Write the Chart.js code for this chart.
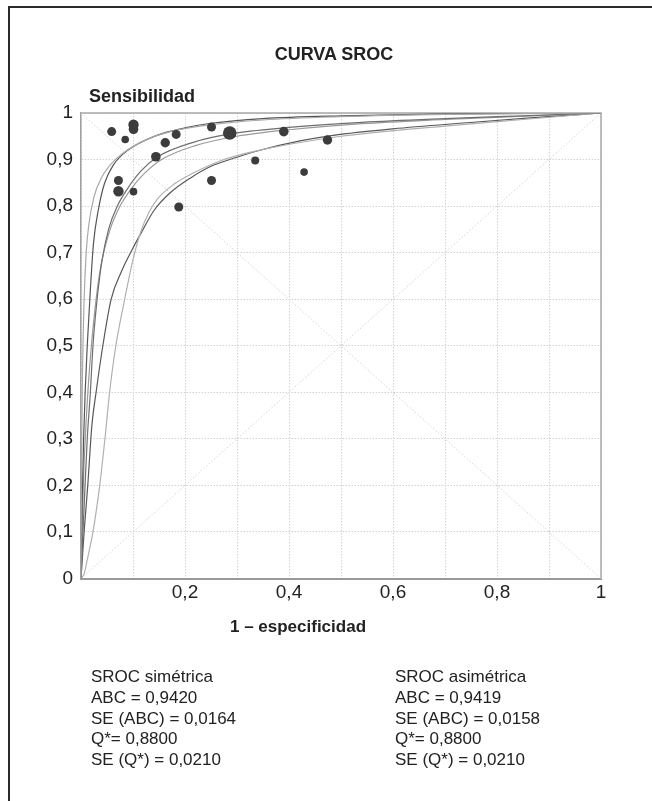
<!DOCTYPE html>
<html>
<head>
<meta charset="utf-8">
<script src="https://cdn.jsdelivr.net/npm/chart.js@4.4.1/dist/chart.umd.min.js"></script>
<style>
  body { margin: 0; background: #fff; }
  #wrap { position: relative; width: 652px; height: 801px; overflow: hidden; font-family: "Liberation Sans", Arial, sans-serif; color: #222; }
  #frame { position: absolute; left: 8px; top: 6px; width: 700px; height: 900px; border-top: 2px solid #2a2a2a; border-left: 2px solid #2a2a2a; }
  canvas { position: absolute; left: 0; top: 0; }
  .txt { position: absolute; white-space: nowrap; font-weight: bold; }
  .stats { position: absolute; font-size: 17px; line-height: 20.8px; white-space: nowrap; }
</style>
</head>
<body>
<div id="wrap">
  <div id="frame"></div>
  <canvas id="sroc" width="652" height="801"></canvas>
  <div class="txt" style="left:0;width:668px;text-align:center;top:43px;font-size:18px;line-height:22px">CURVA SROC</div>
  <div class="txt" style="left:89px;top:85px;font-size:18px;line-height:22px">Sensibilidad</div>
  <div class="txt" style="left:0;width:596px;text-align:center;top:617px;font-size:17px;line-height:20px">1 – especificidad</div>
  <div class="stats" style="left:91px;top:667px">
    SROC simétrica<br>ABC = 0,9420<br>SE (ABC) = 0,0164<br>Q*= 0,8800<br>SE (Q*) = 0,0210
  </div>
  <div class="stats" style="left:395px;top:667px">
    SROC asimétrica<br>ABC = 0,9419<br>SE (ABC) = 0,0158<br>Q*= 0,8800<br>SE (Q*) = 0,0210
  </div>
</div>

<script>
// tick labels
const xTickLabels = ["", "", "0,2", "", "0,4", "", "0,6", "", "0,8", "", "1"];
const yTickLabels = ["0", "0,1", "0,2", "0,3", "0,4", "0,5", "0,6", "0,7", "0,8", "0,9", "1"];

// studies (1 - especificidad, sensibilidad, peso)
const studyFpr  = [0.059, 0.085, 0.101, 0.101, 0.072, 0.072, 0.101, 0.144, 0.162, 0.183, 0.188, 0.251, 0.251, 0.286, 0.335, 0.390, 0.429, 0.474];
const studySens = [0.960, 0.943, 0.975, 0.965, 0.855, 0.832, 0.831, 0.906, 0.936, 0.954, 0.798, 0.970, 0.855, 0.957, 0.898, 0.960, 0.873, 0.942];
const studyWeight = [45, 38, 52, 48, 45, 52, 38, 48, 47, 45, 45, 45, 45, 68, 40, 48, 38, 47];

// SROC curves
const curveAFpr  = [0, 0.001, 0.003, 0.006, 0.01, 0.015, 0.025, 0.04, 0.06, 0.09, 0.13, 0.18, 0.25, 0.35, 0.5, 0.7, 1];
const curveASens = [0, 0.25, 0.45, 0.6, 0.7, 0.76, 0.82, 0.862, 0.893, 0.921, 0.945, 0.962, 0.975, 0.985, 0.992, 0.997, 1];

const curveBFpr  = [0, 0.002, 0.005, 0.008, 0.012, 0.018, 0.024, 0.033, 0.045, 0.062, 0.09, 0.146, 0.2, 0.25, 0.35, 0.5, 0.7, 1];
const curveBSens = [0, 0.15, 0.3, 0.4, 0.5, 0.62, 0.72, 0.79, 0.848, 0.888, 0.92, 0.952, 0.968, 0.978, 0.988, 0.994, 0.998, 1];

const curveCFpr  = [0, 0.003, 0.007, 0.012, 0.018, 0.023, 0.031, 0.04, 0.053, 0.07, 0.088, 0.115, 0.146, 0.216, 0.286, 0.4, 0.54, 0.7, 0.85, 1];
const curveCSens = [0, 0.08, 0.18, 0.3, 0.4, 0.5, 0.6, 0.68, 0.75, 0.8, 0.835, 0.875, 0.905, 0.937, 0.955, 0.969, 0.98, 0.988, 0.994, 1];

const curveDFpr  = [0, 0.002, 0.005, 0.01, 0.015, 0.02, 0.028, 0.038, 0.056, 0.075, 0.095, 0.12, 0.155, 0.22, 0.3, 0.4, 0.54, 0.7, 0.85, 1];
const curveDSens = [0, 0.1, 0.22, 0.34, 0.43, 0.5, 0.59, 0.67, 0.75, 0.8, 0.835, 0.868, 0.9, 0.93, 0.95, 0.964, 0.977, 0.986, 0.993, 1];

const curveEFpr  = [0, 0.006, 0.012, 0.023, 0.036, 0.046, 0.055, 0.067, 0.084, 0.1, 0.115, 0.13, 0.146, 0.18, 0.216, 0.27, 0.335, 0.5, 0.7, 0.85, 1];
const curveESens = [0, 0.01, 0.04, 0.1, 0.2, 0.3, 0.4, 0.5, 0.6, 0.685, 0.745, 0.785, 0.814, 0.848, 0.871, 0.898, 0.918, 0.95, 0.972, 0.986, 1];

const curveFFpr  = [0, 0.003, 0.006, 0.013, 0.021, 0.029, 0.042, 0.058, 0.078, 0.1, 0.117, 0.14, 0.171, 0.21, 0.251, 0.3, 0.344, 0.421, 0.485, 0.6, 0.742, 0.87, 1];
const curveFSens = [0, 0.05, 0.1, 0.2, 0.33, 0.4, 0.5, 0.6, 0.66, 0.71, 0.745, 0.79, 0.828, 0.86, 0.886, 0.905, 0.92, 0.94, 0.952, 0.966, 0.979, 0.99, 1];

// reference diagonals
const diagFpr  = [0, 1];
const diagSens = [0, 1];
const antiSens = [1, 0];

const toPoints = (xs, ys) => xs.map((x, i) => ({ x, y: ys[i] }));

function curve(xs, ys, color) {
  return {
    data: toPoints(xs, ys),
    borderColor: color,
    borderWidth: 1.2,
    pointRadius: 0,
    cubicInterpolationMode: "monotone",
    fill: false,
    order: 2,
  };
}

function refLine(xs, ys) {
  return {
    data: toPoints(xs, ys),
    borderColor: "#d4d4d4",
    borderWidth: 1,
    borderDash: [1.5, 2],
    pointRadius: 0,
    fill: false,
    order: 3,
  };
}

// top and right edges of the plot box
const boxBorder = {
  id: "boxBorder",
  beforeDatasetsDraw(chart) {
    const { ctx, chartArea: a } = chart;
    ctx.save();
    ctx.strokeStyle = "#a8a8a8";
    ctx.lineWidth = 1.5;
    ctx.beginPath();
    ctx.moveTo(a.left, a.top);
    ctx.lineTo(a.right, a.top);
    ctx.lineTo(a.right, a.bottom);
    ctx.stroke();
    ctx.restore();
  },
};

const tickFont = { family: "'Liberation Sans', Arial, sans-serif", size: 19 };

new Chart(document.getElementById("sroc"), {
  type: "line",
  data: {
    datasets: [
      {
        data: toPoints(studyFpr, studySens),
        showLine: false,
        pointRadius: studyWeight.map(w => w / 10),
        pointBackgroundColor: "#3c3c3c",
        pointBorderColor: "#3c3c3c",
        pointBorderWidth: 0,
        order: 0,
      },
      curve(curveAFpr, curveASens, "#a8a8a8"),
      curve(curveBFpr, curveBSens, "#555555"),
      curve(curveCFpr, curveCSens, "#6e6e6e"),
      curve(curveDFpr, curveDSens, "#9a9a9a"),
      curve(curveEFpr, curveESens, "#b0b0b0"),
      curve(curveFFpr, curveFSens, "#585858"),
      refLine(diagFpr, diagSens),
      refLine(diagFpr, antiSens),
    ],
  },
  options: {
    responsive: false,
    animation: false,
    layout: { padding: { top: 113, right: 51, bottom: 180, left: 0 } },
    scales: {
      x: {
        type: "linear",
        min: 0,
        max: 1,
        afterFit: s => { s.height = 42.5; },
        grid: { color: "#d2d2d2", drawTicks: false },
        border: { color: "#9a9a9a", width: 2, dash: [1.5, 1.5] },
        ticks: {
          stepSize: 0.1,
          autoSkip: false,
          maxRotation: 0,
          padding: 3,
          color: "#222",
          font: tickFont,
          callback: (v, i) => xTickLabels[i],
        },
      },
      y: {
        type: "linear",
        min: 0,
        max: 1,
        afterFit: s => { s.width = 81; },
        grid: { color: "#d2d2d2", drawTicks: false },
        border: { color: "#a0a0a0", width: 1.5, dash: [1.5, 1.5] },
        ticks: {
          stepSize: 0.1,
          autoSkip: false,
          padding: 8,
          color: "#222",
          font: tickFont,
          callback: (v, i) => yTickLabels[i],
        },
      },
    },
    plugins: {
      legend: { display: false },
      tooltip: { enabled: false },
    },
  },
  plugins: [boxBorder],
});
</script>
</body>
</html>
